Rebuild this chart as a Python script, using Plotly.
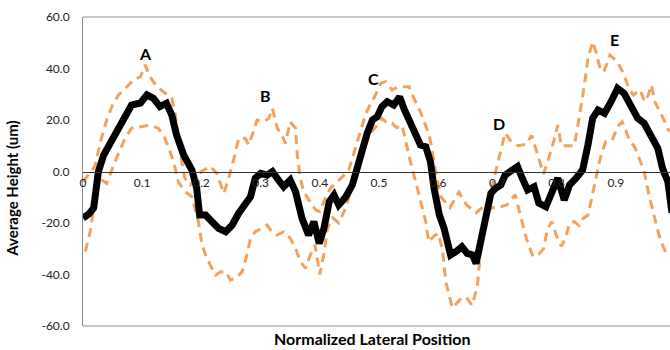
import plotly.graph_objects as go

# ---- data ----
mean_x = [0.000, 0.010, 0.018, 0.026, 0.035, 0.049, 0.066, 0.082, 0.097, 0.108, 0.119, 0.130, 0.141, 0.150,
          0.158, 0.170, 0.184, 0.192, 0.197, 0.207, 0.218, 0.229, 0.241, 0.252, 0.263, 0.274, 0.283, 0.291,
          0.300, 0.311, 0.320, 0.330, 0.339, 0.350, 0.359, 0.370, 0.381, 0.390, 0.399, 0.407, 0.416, 0.424,
          0.432, 0.444, 0.455, 0.463, 0.472, 0.480, 0.489, 0.497, 0.505, 0.514, 0.525, 0.535, 0.542, 0.553,
          0.562, 0.570, 0.579, 0.587, 0.593, 0.602, 0.610, 0.616, 0.621, 0.630, 0.640, 0.649, 0.658, 0.664,
          0.669, 0.675, 0.683, 0.689, 0.697, 0.706, 0.713, 0.723, 0.734, 0.742, 0.751, 0.762, 0.770, 0.782,
          0.791, 0.802, 0.813, 0.822, 0.833, 0.844, 0.853, 0.861, 0.870, 0.881, 0.892, 0.903, 0.914, 0.926,
          0.937, 0.948, 0.960, 0.971, 0.979, 0.988, 0.995]
mean_y = [-18.1, -16.5, -14.2, 0.0, 6.4, 12.2, 18.0, 25.8, 26.6, 29.7, 28.4, 25.2, 26.5, 21.9,
          14.2, 6.4, 0.6, -6.5, -16.9, -16.9, -19.5, -22.1, -23.4, -20.8, -16.2, -13.0, -9.8, -2.6,
          -0.7, -1.4, 0.0, -3.3, -5.9, -3.3, -7.8, -18.2, -24.7, -19.5, -27.9, -22.1, -11.7, -9.1,
          -13.0, -9.8, -5.2, 1.2, 9.6, 14.8, 20.0, 21.3, 25.2, 27.1, 25.8, 29.0, 24.5, 19.3,
          14.8, 10.3, 9.6, 3.8, -6.5, -16.9, -22.1, -29.8, -32.4, -31.1, -29.2, -31.8, -32.4, -35.7,
          -29.8, -22.7, -15.6, -8.5, -6.5, -5.2, -1.4, 0.6, 1.9, -2.6, -7.2, -5.9, -12.3, -13.7,
          -7.8, -2.6, -11.1, -5.2, -2.6, 0.6, 10.3, 20.7, 23.9, 22.6, 27.1, 32.3, 30.4, 25.2,
          20.7, 18.7, 12.9, 9.0, 1.2, -4.0, -16.0]

upper_x = [0.000, 0.010, 0.020, 0.030, 0.040, 0.050, 0.060, 0.077, 0.085, 0.097, 0.105, 0.113, 0.125, 0.139,
           0.150, 0.156, 0.161, 0.167, 0.172, 0.181, 0.190, 0.200, 0.215, 0.226, 0.238, 0.246, 0.255, 0.263,
           0.274, 0.280, 0.288, 0.294, 0.305, 0.314, 0.320, 0.328, 0.336, 0.342, 0.350, 0.359, 0.362, 0.367,
           0.373, 0.385, 0.393, 0.400, 0.410, 0.418, 0.430, 0.441, 0.449, 0.460, 0.469, 0.477, 0.486, 0.494,
           0.503, 0.511, 0.522, 0.534, 0.551, 0.559, 0.570, 0.579, 0.585, 0.590, 0.597, 0.605, 0.620, 0.635,
           0.648, 0.664, 0.685, 0.693, 0.700, 0.707, 0.713, 0.722, 0.735, 0.748, 0.758, 0.768, 0.778, 0.792,
           0.802, 0.808, 0.820, 0.830, 0.836, 0.840, 0.847, 0.853, 0.861, 0.868, 0.874, 0.880, 0.890, 0.903,
           0.914, 0.922, 0.930, 0.941, 0.949, 0.955, 0.960, 0.966, 0.975, 0.983, 0.990]
upper_y = [-4.0, -1.0, 2.0, 12.0, 20.0, 26.0, 29.7, 33.6, 35.5, 36.8, 41.4, 36.8, 32.9, 30.4,
           28.4, 21.9, 12.9, 3.8, -2.6, -5.2, -3.0, 0.0, 2.0, -0.7, -8.5, -2.6, 5.1, 12.9,
           12.9, 10.3, 15.5, 20.0, 19.3, 20.7, 24.5, 16.8, 14.2, 10.9, 19.3, 16.8, 6.4, -2.6,
           -8.0, -12.0, -15.0, -15.6, -10.0, -6.5, -4.0, -1.4, 0.6, 9.0, 16.1, 21.9, 26.5, 29.7,
           34.3, 34.9, 31.7, 32.9, 32.9, 28.4, 23.2, 18.0, 14.0, 8.0, -2.0, -10.0, -14.0, -8.0,
           -13.0, -16.0, -12.0, -4.0, 3.0, 10.0, 15.0, 12.0, 10.0, 10.5, 14.0, 6.5, -1.0, 9.0,
           18.0, 10.0, 10.0, 10.0, 18.0, 23.2, 33.6, 44.0, 50.4, 45.2, 39.4, 38.8, 45.2, 42.6,
           37.5, 32.3, 29.7, 31.7, 27.1, 29.7, 33.6, 27.1, 23.0, 19.3, 15.5]

lower_x = [0.004, 0.012, 0.018, 0.023, 0.030, 0.040, 0.054, 0.063, 0.071, 0.082, 0.099, 0.113, 0.127, 0.136,
           0.144, 0.153, 0.161, 0.172, 0.184, 0.195, 0.201, 0.208, 0.215, 0.224, 0.232, 0.241, 0.249, 0.258,
           0.269, 0.277, 0.283, 0.291, 0.302, 0.311, 0.319, 0.328, 0.339, 0.350, 0.359, 0.367, 0.376, 0.384,
           0.392, 0.400, 0.407, 0.413, 0.422, 0.432, 0.443, 0.452, 0.460, 0.468, 0.477, 0.486, 0.497, 0.505,
           0.514, 0.522, 0.530, 0.539, 0.545, 0.553, 0.562, 0.570, 0.579, 0.584, 0.593, 0.600, 0.607, 0.613,
           0.624, 0.640, 0.648, 0.657, 0.666, 0.670, 0.675, 0.683, 0.692, 0.702, 0.716, 0.730, 0.740, 0.749,
           0.760, 0.770, 0.778, 0.785, 0.792, 0.800, 0.808, 0.815, 0.822, 0.830, 0.838, 0.845, 0.853, 0.861,
           0.870, 0.875, 0.883, 0.894, 0.903, 0.911, 0.922, 0.933, 0.940, 0.948, 0.956, 0.964, 0.973, 0.981,
           0.987]
lower_y = [-31.1, -23.4, -14.3, -6.5, -3.0, -4.6, 3.8, 9.0, 12.9, 16.8, 17.4, 18.0, 16.8, 14.2,
           9.6, 3.8, -4.0, -7.8, -9.8, -19.5, -28.5, -33.0, -36.3, -40.2, -39.0, -38.9, -42.1, -41.5,
           -38.9, -32.4, -25.9, -23.4, -22.1, -20.8, -23.4, -24.7, -23.4, -25.9, -29.8, -35.0, -37.6, -32.4,
           -28.5, -40.0, -32.0, -22.0, -18.0, -20.0, -14.5, -8.0, -1.4, 4.0, 10.3, 15.0, 18.0, 20.7,
           18.7, 18.7, 17.0, 18.0, 11.6, 3.8, -4.0, -11.7, -19.5, -27.3, -25.0, -24.0, -30.0, -43.0,
           -53.0, -49.0, -49.0, -52.0, -45.0, -35.0, -25.0, -15.0, -14.0, -14.0, -13.0, -9.0, -18.0, -26.0,
           -33.0, -32.0, -30.0, -22.0, -19.5, -25.0, -29.0, -26.0, -20.0, -19.5, -21.0, -18.2, -17.0, -7.8,
           1.2, 6.4, 11.6, 12.2, 17.4, 19.3, 12.9, 9.0, 5.0, 0.0, -9.1, -16.9, -24.7, -29.8,
           -32.4]

x_tick_vals = [0.0, 0.1, 0.2, 0.3, 0.4, 0.5, 0.6, 0.7, 0.8, 0.9]
x_tick_text = ["0", "0.1", "0.2", "0.3", "0.4", "0.5", "0.6", "0.7", "0.8", "0.9"]
y_tick_vals = [-60, -40, -20, 0, 20, 40, 60]
y_tick_text = ["-60.0", "-40.0", "-20.0", "0.0", "20.0", "40.0", "60.0"]

peak_labels = ["A", "B", "C", "D", "E"]
peak_x = [0.106, 0.308, 0.491, 0.703, 0.898]
peak_y = [45.9, 29.7, 36.2, 18.7, 51.1]

x_title = "Normalized Lateral Position"
y_title = "Average Height (um)"

# ---- style ----
FONT = "Lato, 'Open Sans', sans-serif"
ORANGE = "#F2A25C"

fig = go.Figure()
for xs, ys in [(upper_x, upper_y), (lower_x, lower_y)]:
    fig.add_trace(go.Scatter(x=xs, y=ys, mode="lines",
                             line=dict(color=ORANGE, width=3, dash="9px,6px"),
                             hoverinfo="skip", showlegend=False))
fig.add_trace(go.Scatter(x=mean_x, y=mean_y, mode="lines",
                         line=dict(color="black", width=7),
                         hoverinfo="skip", showlegend=False))

for t, px_, py_ in zip(peak_labels, peak_x, peak_y):
    fig.add_annotation(x=px_, y=py_, text="<b>%s</b>" % t, showarrow=False,
                       font=dict(family=FONT, size=16, color="black"))

fig.add_annotation(xref="paper", yref="paper", x=0.492, y=-0.0777, yanchor="bottom",
                   text="<b>%s</b>" % x_title, showarrow=False,
                   font=dict(family=FONT, size=16, color="black"))
fig.add_annotation(xref="paper", yref="paper", x=-0.12, y=0.443, xanchor="center", yanchor="middle",
                   text="<b>%s</b>" % y_title, showarrow=False, textangle=-90,
                   font=dict(family=FONT, size=15, color="black"))

# plot-area frame (left, top, bottom)
frame = dict(color="#8C8C8C", width=1)
fig.add_shape(type="line", xref="paper", yref="paper", x0=0, x1=1, y0=1, y1=1, line=frame)
fig.add_shape(type="line", xref="paper", yref="paper", x0=0, x1=1, y0=0, y1=0, line=frame)

fig.update_layout(
    width=670, height=350,
    margin=dict(l=83, r=0, t=17, b=24),
    plot_bgcolor="white", paper_bgcolor="white",
    font=dict(family=FONT, size=12, color="#222222"),
    xaxis=dict(range=[0, 0.9916], tickvals=x_tick_vals, ticktext=x_tick_text,
               showgrid=False, zeroline=False, showline=True, linecolor="#333333", linewidth=1,
               anchor="free", position=0.5, ticks="", tickfont=dict(size=12, color="#222222")),
    yaxis=dict(range=[-60, 60], tickvals=y_tick_vals, ticktext=y_tick_text,
               showgrid=False, zeroline=False, showline=True, linecolor="#8C8C8C", linewidth=1,
               ticks="", ticklabelstandoff=10, tickfont=dict(size=12, color="#222222")),
)

fig.write_html("out.html")
